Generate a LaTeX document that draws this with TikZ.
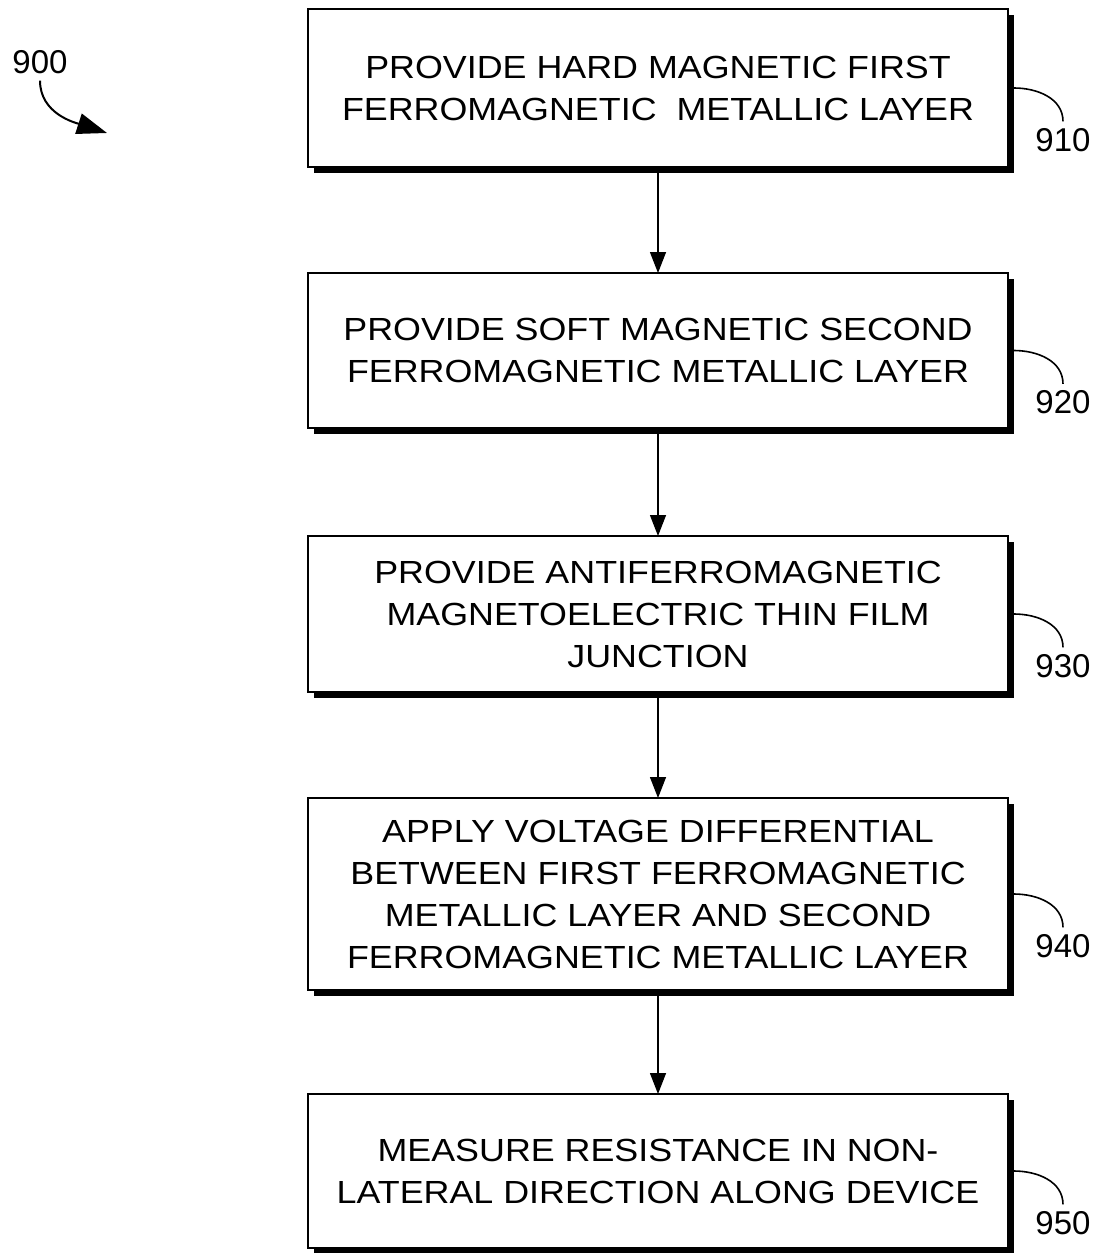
\documentclass[tikz,border=0pt]{standalone}
\usepackage{fontspec}
\setmainfont[FakeStretch=1.12]{Liberation Sans}
\newfontfamily\numfont{Liberation Sans}
\usepackage{tikz}
\usetikzlibrary{arrows.meta,positioning,shadows}

\begin{document}
\begin{tikzpicture}[x=1pt,y=1pt,node distance=106pt,line width=1.8pt,
                    main node/.style={rectangle,draw,fill=white,align=center,
                      minimum width=700pt,inner sep=0pt,outer sep=0pt,
                      font=\fontsize{32}{42}\selectfont,
                      drop shadow={shadow xshift=6pt,shadow yshift=-6pt,fill=black,opacity=1}},
                    num node/.style={inner sep=6pt,font=\numfont\fontsize{33}{38}\selectfont}]

  \useasboundingbox (0,0) rectangle (1099,-1253);

  \node[main node,minimum height=158pt] (1) at (658,-88)
    {PROVIDE HARD MAGNETIC FIRST\\FERROMAGNETIC\ \ METALLIC LAYER};
  \node[main node,minimum height=155pt] (2) [below=of 1]
    {PROVIDE SOFT MAGNETIC SECOND\\FERROMAGNETIC METALLIC LAYER};
  \node[main node,minimum height=156pt] (3) [below=108pt of 2]
    {PROVIDE ANTIFERROMAGNETIC\\MAGNETOELECTRIC THIN FILM\\JUNCTION};
  \node[main node,minimum height=192pt] (4) [below=of 3]
    {APPLY VOLTAGE DIFFERENTIAL\\BETWEEN FIRST FERROMAGNETIC\\METALLIC LAYER AND SECOND\\FERROMAGNETIC METALLIC LAYER};
  \node[main node,minimum height=154pt] (5) [below=104pt of 4]
    {MEASURE RESISTANCE IN NON-\\LATERAL DIRECTION ALONG DEVICE};

  \path[-{Triangle[length=21pt,width=16pt]},line width=1.4pt]
    (1) edge (2)
    (2) edge (3)
    (3) edge (4)
    (4) edge (5);

  % reference numerals
  \foreach \i/\n in {1/910,2/920,3/930,4/940,5/950} {
    \node[num node] (\n) at ([xshift=55pt,yshift=-52pt]\i.east) {\n};
    \draw[line width=1.6pt] ([xshift=6pt]\i.east) to[out=0,in=90] (\n.north);
  }

  \node[num node] (900) at (40,-62) {900};
  \coordinate (start) at (107,-133);
  \draw[-{Triangle[length=30pt,width=21pt]},line width=2pt]
    (900.south) to[out=-90,in=162] (start);
\end{tikzpicture}
\end{document}
